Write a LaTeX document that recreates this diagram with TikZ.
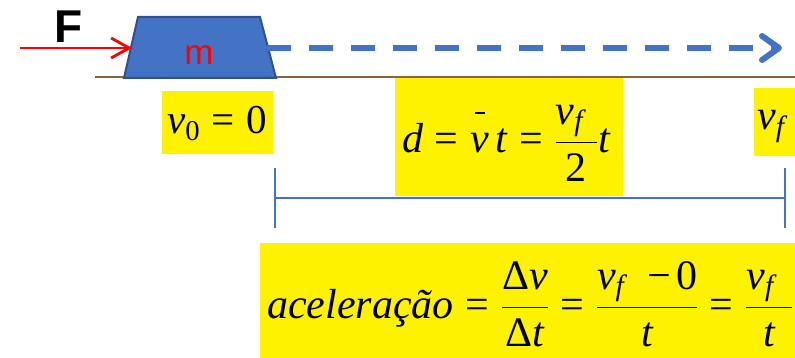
\RequirePackage{fix-cm}
\documentclass[tikz,border=0pt]{standalone}
\usepackage{amsmath}
\usepackage{fontspec}
\setmainfont{Liberation Serif}
\newfontfamily\sansf{Liberation Sans}
\usetikzlibrary{arrows.meta}
\definecolor{blkfill}{HTML}{4472C4}
\definecolor{blkedge}{HTML}{2F528F}
\definecolor{groundc}{RGB}{140,100,60}
\definecolor{brkc}{HTML}{4472C4}
\newcommand\mi[1]{\textit{#1}}
\newcommand\eqs{\mathrel{\textrm{=}}}
\newcommand\dlt{\textrm{Δ}}
\newcommand\vbar{\rlap{\hspace{0.12em}\raisebox{0.93em}{\rule{0.24em}{1.5pt}}}\mi{v}}
\begin{document}
\begin{tikzpicture}[x=1pt,y=-1pt,
  ybox/.style={fill=yellow},
  eqn/.style={inner sep=0pt, font=\fontsize{42}{50}\selectfont},
  eqs/.style={inner sep=0pt, font=\fontsize{41}{49}\selectfont},
  force/.style={draw=red, line width=2.8pt, -{Straight Barb[length=18pt,width=20pt]}},
  motion/.style={draw=blkfill, line width=6pt, dash pattern=on 24pt off 18pt,
    -{Straight Barb[length=17pt,width=24pt,line cap=round,line join=round]}},
  groundline/.style={draw=groundc, line width=2pt},
  bracket/.style={draw=brkc, line width=1.5pt}]
\useasboundingbox (0,0) rectangle (795,358);
\clip (0,0) rectangle (795,358);
% ground
\coordinate (g0) at (95,77.5);
\coordinate (g1) at (800,77.5);
\draw[groundline] (g0) -- (g1);
% block
\draw[fill=blkfill, draw=blkedge, line width=2pt]
  (124,78) -- (138,17) -- (260,17) -- (276,78) -- cycle;
\node[inner sep=0pt, anchor=base, text=red, font=\sansf\fontsize{35}{40}\selectfont] (mass) at (199,65) {m};
% force
\node[inner sep=0pt, font=\sansf\bfseries\fontsize{46}{50}\selectfont] (flabel) at (69,27) {F};
\coordinate (fs) at (20,48);
\coordinate (fe) at (132,48);
\draw[force] (fs) -- (fe);
% motion arrow
\coordinate (ms) at (267,48);
\coordinate (me) at (782,48);
\draw[motion] (ms) -- (me);
% yellow boxes
\fill[ybox] (162,91) rectangle (273,154);
\fill[ybox] (395,78) rectangle (623,196);
\fill[ybox] (754,88) rectangle (800,156);
\fill[ybox] (260,243) rectangle (800,360);
% equations
\node[eqs, anchor=base west] (v0) at (167,134) {$\mi{v}_{\textrm{0}} \eqs \textrm{0}$};
\node[eqn, anchor=base west] (dist) at (402,153) {$\mi{d} \eqs \vbar\,\mi{t} \eqs \dfrac{\mi{v}_{\mi{f}}\mkern6mu}{\textrm{2}}\mi{t}$};
\node[eqn, anchor=base west] (vf) at (757,130) {$\mi{v}_{\mi{f}}$};
\node[eqn, anchor=base west] (acc) at (267,318) {$\mi{aceleração} \eqs \dfrac{\dlt\mi{v}}{\dlt\mi{t}} \eqs \dfrac{\mi{v}_{\mi{f}}\mkern10mu\textrm{−}\mkern2mu\textrm{0}}{\mi{t}} \eqs \dfrac{\mi{v}_{\mi{f}}\mkern8mu}{\mi{t}}$};
% bracket
\coordinate (bl) at (275,198);
\coordinate (br) at (785,198);
\coordinate (blt) at (275,168);
\coordinate (blb) at (275,228);
\coordinate (brt) at (785,168);
\coordinate (brb) at (785,228);
\draw[bracket] (bl) -- (br);
\draw[bracket] (blt) -- (blb);
\draw[bracket] (brt) -- (brb);
\end{tikzpicture}
\end{document}
